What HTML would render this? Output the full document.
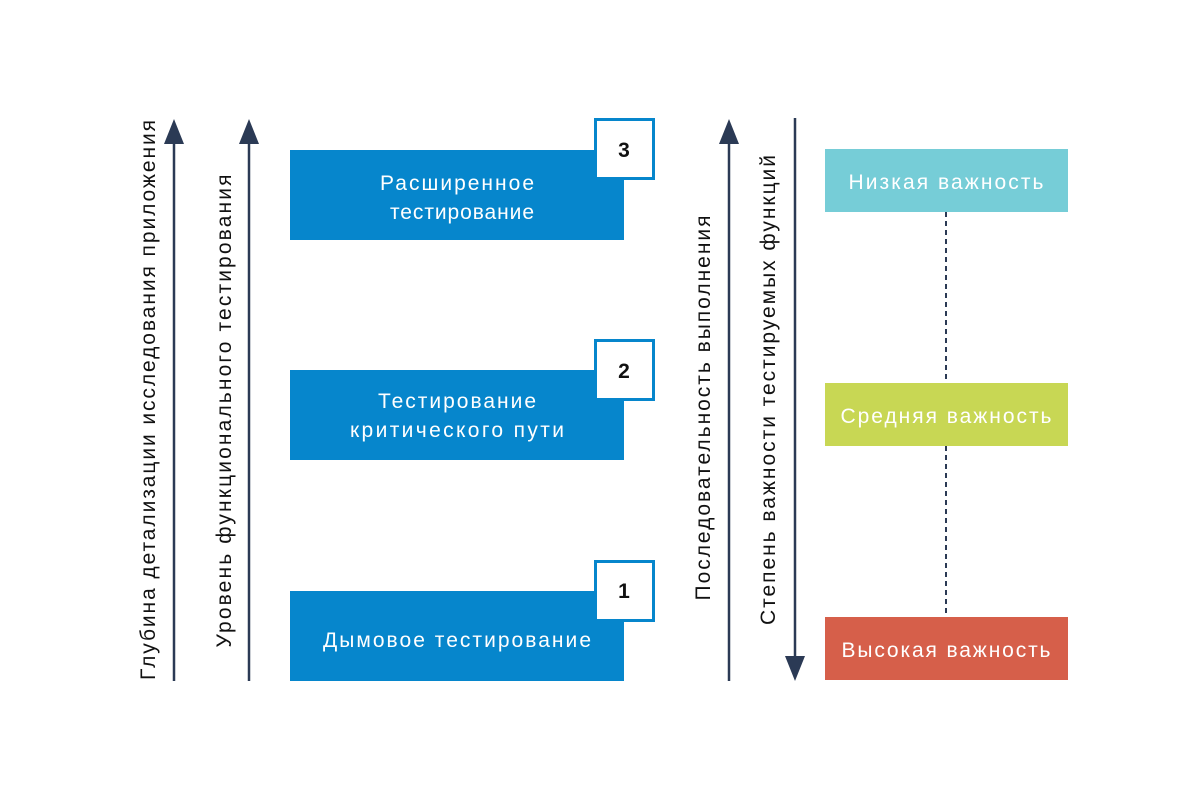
<!DOCTYPE html>
<html><head><meta charset="utf-8"><style>
html,body{margin:0;padding:0;background:#fff;}
svg{display:block;}
text{font-family:"Liberation Sans","DejaVu Sans",sans-serif;}
</style></head><body>
<svg width="1200" height="800" viewBox="0 0 1200 800" xmlns="http://www.w3.org/2000/svg">
<rect width="1200" height="800" fill="#fff"/>
<g stroke="#2b3a55" stroke-width="2.5" fill="none">
<line x1="174" y1="140" x2="174" y2="681"/>
<line x1="249" y1="140" x2="249" y2="681"/>
<line x1="729" y1="140" x2="729" y2="681"/>
<line x1="795" y1="118" x2="795" y2="660"/>
</g>
<g fill="#2b3a55">
<polygon points="174,119 164,144 184,144"/>
<polygon points="249,119 239,144 259,144"/>
<polygon points="729,119 719,144 739,144"/>
<polygon points="795,681 785,656 805,656"/>
</g>
<g font-size="21" fill="#111" text-anchor="middle" lengthAdjust="spacing">
<text transform="translate(155,400) rotate(-90)" textLength="560" lengthAdjust="spacing">Глубина детализации исследования приложения</text>
<text transform="translate(231,411) rotate(-90)" textLength="473" lengthAdjust="spacing">Уровень функционального тестирования</text>
<text transform="translate(710,408) rotate(-90)" textLength="385" lengthAdjust="spacing">Последовательность выполнения</text>
<text transform="translate(775,390) rotate(-90)" textLength="470" lengthAdjust="spacing">Степень важности тестируемых функций</text>
</g>
<g fill="#0686cc">
<rect x="290" y="150" width="334" height="90"/>
<rect x="290" y="370" width="334" height="90"/>
<rect x="290" y="591" width="334" height="90"/>
</g>
<g fill="#fff" stroke="#0686cc" stroke-width="3">
<rect x="595.5" y="119.5" width="58" height="59"/>
<rect x="595.5" y="340.5" width="58" height="59"/>
<rect x="595.5" y="561.5" width="58" height="59"/>
</g>
<g font-size="21" font-weight="bold" fill="#111" text-anchor="middle">
<text x="624" y="157">3</text>
<text x="624" y="378">2</text>
<text x="624" y="598">1</text>
</g>
<g font-size="21" fill="#fff" text-anchor="middle">
<text x="457" y="190" textLength="154" lengthAdjust="spacing">Расширенное</text>
<text x="462" y="219" textLength="144" lengthAdjust="spacing">тестирование</text>
<text x="457" y="408" textLength="158" lengthAdjust="spacing">Тестирование</text>
<text x="457" y="437" textLength="214" lengthAdjust="spacing">критического пути</text>
<text x="457" y="647" textLength="268" lengthAdjust="spacing">Дымовое тестирование</text>
</g>
<line x1="946" y1="212" x2="946" y2="383" stroke="#2b3a55" stroke-width="2" stroke-dasharray="5,4"/>
<line x1="946" y1="446" x2="946" y2="617" stroke="#2b3a55" stroke-width="2" stroke-dasharray="5,4"/>
<rect x="825" y="149" width="243" height="63" fill="#76cdd7"/>
<rect x="825" y="383" width="243" height="63" fill="#c8d754"/>
<rect x="825" y="617" width="243" height="63" fill="#d65f4a"/>
<g font-size="21" fill="#fff" text-anchor="middle">
<text x="946" y="189" textLength="195" lengthAdjust="spacing">Низкая важность</text>
<text x="946" y="423" textLength="211" lengthAdjust="spacing">Средняя важность</text>
<text x="946" y="657" textLength="209" lengthAdjust="spacing">Высокая важность</text>
</g>
</svg>
</body></html>
